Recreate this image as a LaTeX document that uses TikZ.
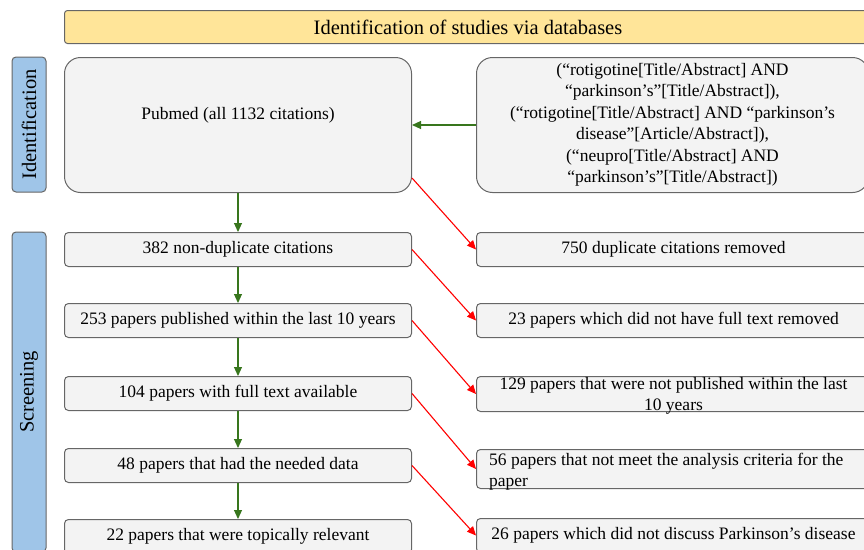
\documentclass[tikz,border=0pt]{standalone}
\usepackage{fontspec}
\setmainfont{Liberation Serif}
\usetikzlibrary{arrows.meta}
\definecolor{boxfill}{HTML}{F3F3F3}
\definecolor{boxline}{HTML}{666666}
\definecolor{titlefill}{HTML}{FFE599}
\definecolor{sidefill}{HTML}{9FC5E8}
\definecolor{gr}{HTML}{38761D}
\definecolor{rd}{HTML}{FF0000}
\begin{document}
\begin{tikzpicture}[x=1pt,y=-1pt,
 base/.style={draw=boxline, line width=1pt, inner sep=0pt, anchor=north west},
 lbox/.style={base, fill=boxfill, rounded corners=4pt, minimum width=347pt, minimum height=34pt, font=\fontsize{17.5}{21}\selectfont},
 rbox/.style={lbox, minimum width=394pt},
 bigbox/.style={base, fill=boxfill, rounded corners=16pt, minimum height=135pt, font=\fontsize{17.5}{21.5}\selectfont, align=center},
 side/.style={base, anchor=center, fill=sidefill, rounded corners=4pt, minimum height=34pt, rotate=90, font=\fontsize{20.5}{24}\selectfont},
 txt/.style={inner sep=0pt, font=\fontsize{17.5}{21}\selectfont, align=center},
 garrow/.style={draw=gr, line width=1.1pt, -{Triangle[length=9pt,width=8pt]}},
 rarrow/.style={draw=rd, line width=1.1pt, -{Triangle[length=9pt,width=8pt]}},
]
\useasboundingbox (0,0) rectangle (864,549);

% title bar
\node[base, fill=titlefill, rounded corners=3pt, minimum width=807pt, minimum height=33pt, font=\fontsize{20.5}{24}\selectfont] (title) at (64,10) {Identification of studies via databases};

% side labels
\node[side, minimum width=135pt] (sid) at (29,124.5) {Identification};
\node[side, minimum width=320pt] (sscr) at (29,392) {Screening};

% identification boxes
\node[bigbox, minimum width=347pt] (pub) at (64,57) {};
\node[txt] (pubtxt) at ([yshift=10pt]pub.center) {Pubmed (all 1132 citations)};
\node[bigbox, minimum width=392pt] (qry) at (476,57) {(“rotigotine[Title/Abstract] AND\\
“parkinson’s”[Title/Abstract]),\\
(“rotigotine[Title/Abstract] AND “parkinson’s\\
disease”[Article/Abstract]),\\
(“neupro[Title/Abstract] AND\\
“parkinson’s”[Title/Abstract])};

% left column
\node[lbox] (l1) at (64,232) {382 non-duplicate citations};
\node[lbox] (l2) at (64,303) {253 papers published within the last 10 years};
\node[lbox] (l3) at (64,376) {104 papers with full text available};
\node[lbox] (l4) at (64,448) {48 papers that had the needed data};
\node[lbox] (l5) at (64,519) {22 papers that were topically relevant};

% right column
\node[rbox] (r1) at (476,232) {750 duplicate citations removed};
\node[rbox] (r2) at (476,303) {23 papers which did not have full text removed};
\node[rbox, minimum height=35pt] (r3) at (476,376) {};
\node[txt] (r3txt) at ([yshift=-2pt]r3.center) {129 papers that were not published within the last\\10 years};
\node[rbox, minimum height=39pt] (r4) at (476,449) {};
\node[txt, align=left, anchor=west] (r4txt) at ([xshift=13pt,yshift=-3pt]r4.west) {56 papers that not meet the analysis criteria for the\\paper};
\node[rbox] (r5) at (476,518) {26 papers which did not discuss Parkinson’s disease};

% green arrows
\draw[garrow] (qry.west) -- (pub.east);
\draw[garrow] (pub.south) -- (l1.north);
\draw[garrow] (l1.south) -- (l2.north);
\draw[garrow] (l2.south) -- (l3.north);
\draw[garrow] (l3.south) -- (l4.north);
\draw[garrow] (l4.south) -- (l5.north);

% red arrows
\draw[rarrow] ([yshift=15pt]pub.south east) -- (r1.west);
\draw[rarrow] (l1.east) -- (r2.west);
\draw[rarrow] (l2.east) -- (r3.west);
\draw[rarrow] (l3.east) -- (r4.west);
\draw[rarrow] (l4.east) -- (r5.west);
\end{tikzpicture}
\end{document}
